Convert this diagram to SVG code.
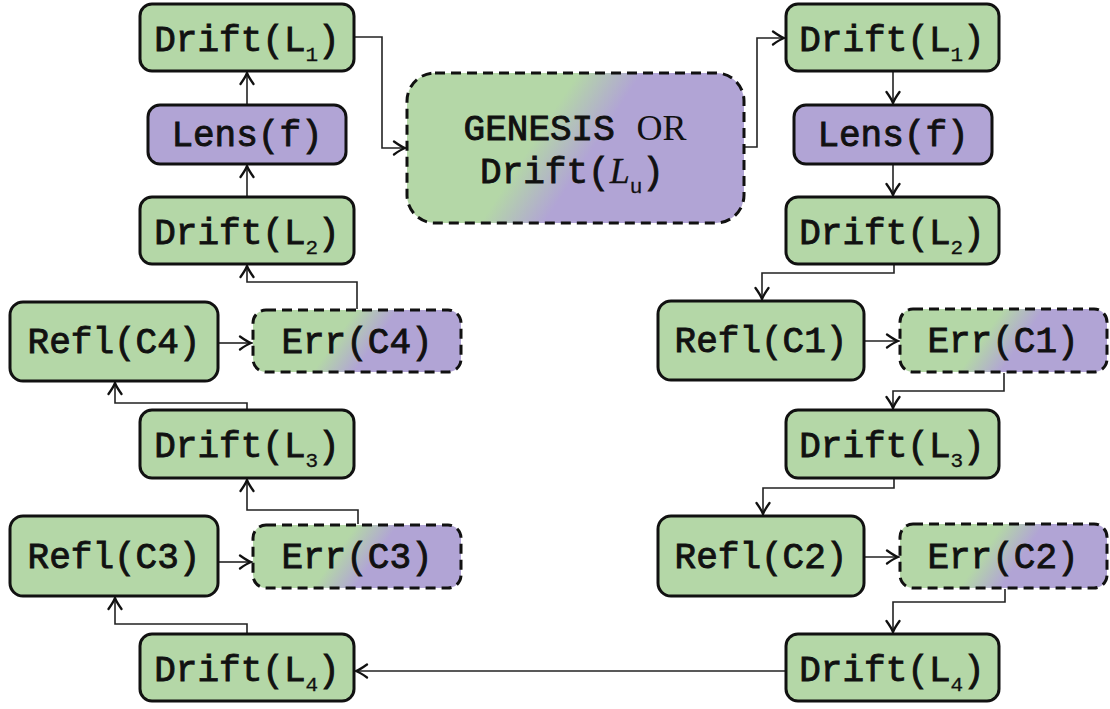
<svg xmlns="http://www.w3.org/2000/svg" width="1110" height="709" viewBox="0 0 1110 709">
  <style>
    .box { stroke: #111; stroke-width: 3; }
    .solid-g { fill: #b4d7a7; }
    .solid-p { fill: #b1a4d5; }
    .dash { stroke-dasharray: 10 6; }
    .lbl { font-family: "Liberation Mono", "DejaVu Sans Mono", monospace; font-weight: normal; font-size: 36px; fill: #111; text-anchor: middle; stroke: #111; stroke-width: 0.9; }
    .sub { font-size: 21px; stroke-width: 0.3; }
    .serif { font-family: "Liberation Serif", "DejaVu Serif", serif; font-weight: normal; stroke-width: 0; }
    .ital { font-family: "Liberation Serif", "DejaVu Serif", serif; font-style: italic; font-weight: normal; stroke-width: 0.3; }
    .wire { fill: none; stroke: #222; stroke-width: 1.6; marker-end: url(#tip); }
  </style>
  <defs>
    <marker id="tip" markerUnits="userSpaceOnUse" viewBox="-13 -8 15 16" refX="0" refY="0" markerWidth="15" markerHeight="16" orient="auto">
      <path d="M -11 -6.5 Q -4 -1.5 0 0 Q -4 1.5 -11 6.5" fill="none" stroke="#111" stroke-width="2.3" stroke-linecap="round"/>
    </marker>
    <linearGradient id="mixBig" x1="0.205" y1="0.4275" x2="0.705" y2="0.5725">
      <stop offset="0.33" stop-color="#b4d7a7"/>
      <stop offset="0.68" stop-color="#b1a4d5"/>
    </linearGradient>
    <linearGradient id="mixSmall" x1="0.18" y1="0.437" x2="0.78" y2="0.563">
      <stop offset="0.36" stop-color="#b4d7a7"/>
      <stop offset="0.68" stop-color="#b1a4d5"/>
    </linearGradient>
  </defs>

  <!-- connectors -->
  <g id="connectors">
    <path class="wire" d="M 247 105 V 73"/>
    <path class="wire" d="M 247 197 V 166"/>
    <path class="wire" d="M 357 309 V 282 H 247 V 266"/>
    <path class="wire" d="M 219 343 H 251"/>
    <path class="wire" d="M 247 409 V 403 H 115 V 383"/>
    <path class="wire" d="M 358 524 V 510 H 247 V 480"/>
    <path class="wire" d="M 219 562 H 251"/>
    <path class="wire" d="M 247 633 V 624 H 115 V 598"/>
    <path class="wire" d="M 785 671 H 356"/>
    <path class="wire" d="M 355 37 H 382 V 148 H 405"/>
    <path class="wire" d="M 745 147 H 757 V 38 H 784"/>
    <path class="wire" d="M 893 72 V 103"/>
    <path class="wire" d="M 893 165 V 195"/>
    <path class="wire" d="M 894 265 V 273 H 762 V 299"/>
    <path class="wire" d="M 865 341 H 898"/>
    <path class="wire" d="M 1004 373 V 391 H 893 V 408"/>
    <path class="wire" d="M 894 479 V 488 H 763 V 514"/>
    <path class="wire" d="M 865 557 H 898"/>
    <path class="wire" d="M 1005 589 V 602 H 893 V 632"/>
  </g>

  <!-- left chain -->
  <g id="drift-l1-left">
    <rect class="box solid-g" x="140" y="4" width="214" height="67" rx="12"/>
    <text class="lbl" x="247" y="51">Drift(L<tspan class="sub" dy="10">1</tspan><tspan dy="-10">)</tspan></text>
  </g>
  <g id="lens-left">
    <rect class="box solid-p" x="148" y="105" width="198" height="59" rx="12"/>
    <text class="lbl" x="247" y="146">Lens(f)</text>
  </g>
  <g id="drift-l2-left">
    <rect class="box solid-g" x="140" y="197" width="214" height="67" rx="12"/>
    <text class="lbl" x="247" y="244">Drift(L<tspan class="sub" dy="10">2</tspan><tspan dy="-10">)</tspan></text>
  </g>
  <g id="refl-c4">
    <rect class="box solid-g" x="10" y="302" width="208" height="79" rx="13"/>
    <text class="lbl" x="114" y="353">Refl(C4)</text>
  </g>
  <g id="err-c4">
    <rect class="box dash" fill="url(#mixSmall)" x="253" y="310" width="208" height="62" rx="13"/>
    <text class="lbl" x="357" y="353">Err(C4)</text>
  </g>
  <g id="drift-l3-left">
    <rect class="box solid-g" x="140" y="410" width="214" height="68" rx="12"/>
    <text class="lbl" x="247" y="457">Drift(L<tspan class="sub" dy="10">3</tspan><tspan dy="-10">)</tspan></text>
  </g>
  <g id="refl-c3">
    <rect class="box solid-g" x="10" y="516" width="208" height="80" rx="13"/>
    <text class="lbl" x="114" y="568">Refl(C3)</text>
  </g>
  <g id="err-c3">
    <rect class="box dash" fill="url(#mixSmall)" x="253" y="525" width="208" height="63" rx="13"/>
    <text class="lbl" x="357" y="568">Err(C3)</text>
  </g>
  <g id="drift-l4-left">
    <rect class="box solid-g" x="140" y="634" width="214" height="67" rx="12"/>
    <text class="lbl" x="247" y="681">Drift(L<tspan class="sub" dy="10">4</tspan><tspan dy="-10">)</tspan></text>
  </g>

  <!-- source / sink -->
  <g id="genesis">
    <rect class="box dash" fill="url(#mixBig)" x="407" y="73" width="337" height="150" rx="28"/>
    <text class="lbl" x="575" y="140">GENESIS <tspan class="serif">OR</tspan></text>
    <text class="lbl" x="572" y="183">Drift(<tspan class="ital">L</tspan><tspan class="sub" dy="10">u</tspan><tspan dy="-10">)</tspan></text>
  </g>

  <!-- right chain -->
  <g id="drift-l1-right">
    <rect class="box solid-g" x="786" y="4" width="213" height="67" rx="12"/>
    <text class="lbl" x="892" y="51">Drift(L<tspan class="sub" dy="10">1</tspan><tspan dy="-10">)</tspan></text>
  </g>
  <g id="lens-right">
    <rect class="box solid-p" x="794" y="105" width="198" height="59" rx="12"/>
    <text class="lbl" x="893" y="146">Lens(f)</text>
  </g>
  <g id="drift-l2-right">
    <rect class="box solid-g" x="786" y="197" width="213" height="67" rx="12"/>
    <text class="lbl" x="892" y="244">Drift(L<tspan class="sub" dy="10">2</tspan><tspan dy="-10">)</tspan></text>
  </g>
  <g id="refl-c1">
    <rect class="box solid-g" x="658" y="301" width="206" height="79" rx="13"/>
    <text class="lbl" x="761" y="352">Refl(C1)</text>
  </g>
  <g id="err-c1">
    <rect class="box dash" fill="url(#mixSmall)" x="900" y="309" width="207" height="63" rx="13"/>
    <text class="lbl" x="1003" y="352">Err(C1)</text>
  </g>
  <g id="drift-l3-right">
    <rect class="box solid-g" x="786" y="410" width="213" height="68" rx="12"/>
    <text class="lbl" x="892" y="457">Drift(L<tspan class="sub" dy="10">3</tspan><tspan dy="-10">)</tspan></text>
  </g>
  <g id="refl-c2">
    <rect class="box solid-g" x="658" y="516" width="206" height="80" rx="13"/>
    <text class="lbl" x="761" y="568">Refl(C2)</text>
  </g>
  <g id="err-c2">
    <rect class="box dash" fill="url(#mixSmall)" x="900" y="524" width="207" height="64" rx="13"/>
    <text class="lbl" x="1003" y="568">Err(C2)</text>
  </g>
  <g id="drift-l4-right">
    <rect class="box solid-g" x="786" y="634" width="213" height="67" rx="12"/>
    <text class="lbl" x="892" y="681">Drift(L<tspan class="sub" dy="10">4</tspan><tspan dy="-10">)</tspan></text>
  </g>
</svg>
